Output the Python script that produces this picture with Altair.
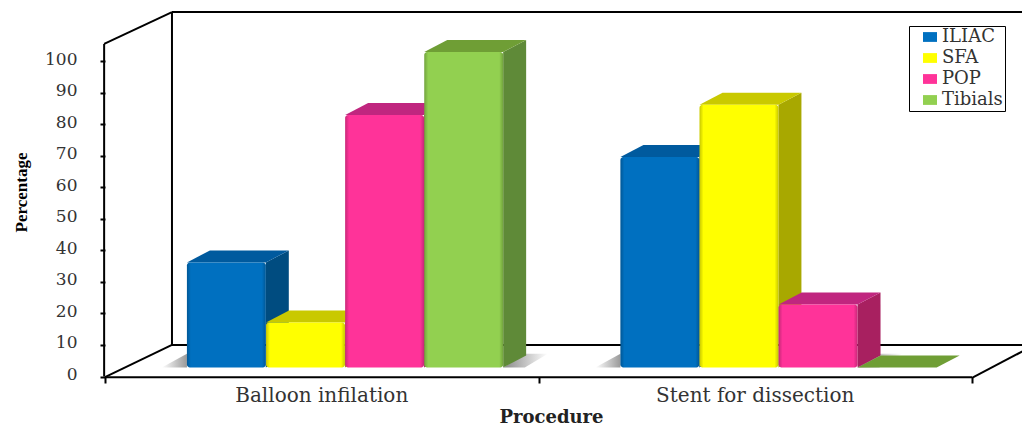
import altair as alt
import pandas as pd

categories = ["Balloon infilation", "Stent for dissection"]
series = ["ILIAC", "SFA", "POP", "Tibials"]
values = {
    "ILIAC": [33.3, 66.7],
    "SFA": [14.3, 83.3],
    "POP": [80, 20],
    "Tibials": [100, 0],
}
front_colors = ["#0070c0", "#ffff00", "#ff3399", "#92d050"]
top_colors = ["#005a9e", "#c9c900", "#c0267f", "#6f9e35"]
side_colors = ["#004c80", "#a8a800", "#a82060", "#5f8a38"]
y_ticks = list(range(0, 101, 10))

# geometry of the pseudo-3D box, in data units
W, H = 1014, 419
PX_X, PX_Y = 433.5, 3.155
X0_PX, Y0_PX = 97, 368.5
BASE = 2.85
START, BAR_W, STEP = 0.189, 0.182, 0.1825
DX, DY = 0.053, 3.8
x_scale = alt.Scale(domain=[-X0_PX / PX_X, (W - X0_PX) / PX_X], nice=False, zero=False)
y_scale = alt.Scale(domain=[-(H - Y0_PX) / PX_Y, Y0_PX / PX_Y], nice=False, zero=False)

x_axis = alt.Axis(orient="bottom", offset=-(H - 369), values=[0, 1, 2], labels=False,
                  domain=False, grid=False, tickColor="#000", tickWidth=2, tickSize=6,
                  title="Procedure", titleFont="DejaVu Serif", titleFontSize=18,
                  titleFontWeight="bold", titleColor="#222", titleX=543, titleY=40,
                  titleAlign="center", titleBaseline="middle")
y_axis = alt.Axis(orient="left", offset=-X0_PX, values=y_ticks, domain=False, grid=False,
                  tickColor="#000", tickWidth=2, tickSize=5, labelFont="DejaVu Serif",
                  labelFontSize=17, labelColor="#333", labelPadding=23, labelOffset=-2,
                  title="Percentage", titleFont="Liberation Serif", titleFontSize=17,
                  titleFontWeight="bold", titleColor="#000", titleAngle=270,
                  titleX=-84, titleY=184, titleAlign="center", titleBaseline="middle")

def XE(f):
    return alt.X(f, scale=x_scale, axis=x_axis)

def YE(f):
    return alt.Y(f, scale=y_scale, axis=y_axis, stack=None)

front, side, top = [], [], []
for ci, cat in enumerate(categories):
    for si, s in enumerate(series):
        v = values[s][ci]
        xl = ci + START + si * STEP
        xr = xl + BAR_W
        yt = BASE + v
        key = f"b{ci}{si}"
        front.append(dict(key=key, series=s, xl=xl, xr=xr, y0=BASE, y1=yt))
        side.append(dict(key=key, fill=side_colors[si], x=xr, y0=BASE, y1=yt))
        side.append(dict(key=key, fill=side_colors[si], x=xr + DX, y0=BASE + DY, y1=yt + DY))
        top.append(dict(key=key, fill=top_colors[si], y=yt, xa=xl, xb=xr))
        top.append(dict(key=key, fill=top_colors[si], y=yt + DY, xa=xl + DX, xb=xr + DX))
df_front = pd.DataFrame(front)
df_front = df_front[df_front.y1 > BASE]
df_side = pd.DataFrame(side)
df_top = pd.DataFrame(top)

frame = pd.DataFrame([
    dict(x=-0.002, x2=-0.002, y=0, y2=105.4),
    dict(x=-0.002, x2=0.1545, y=105.4, y2=115.5),
    dict(x=0.1545, x2=0.1545, y=10, y2=115.5),
    dict(x=0.1545, x2=2.135, y=115.5, y2=115.5),
    dict(x=0.1545, x2=2.135, y=10, y2=10),
    dict(x=0, x2=0.1545, y=-0.2, y2=10),
    dict(x=0, x2=2, y=-0.2, y2=-0.2),
    dict(x=2, x2=2.135, y=-0.4, y2=9.3),
])
frame_layer = alt.Chart(frame).mark_rule(color="#000000", strokeWidth=2).encode(
    x=XE("x:Q"), x2="x2:Q", y=YE("y:Q"), y2="y2:Q",
)

grad_l = alt.Gradient(gradient="linear", x1=0, x2=1, y1=0, y2=0,
                      stops=[alt.GradientStop(offset=0, color="#ffffff"), alt.GradientStop(offset=1, color="#999999")])
grad_r = alt.Gradient(gradient="linear", x1=0, x2=1, y1=0, y2=0,
                      stops=[alt.GradientStop(offset=0, color="#888888"), alt.GradientStop(offset=1, color="#ffffff")])
sh_l, sh_r = [], []
for ci in range(len(categories)):
    xl = ci + START
    n = sum(1 for s in series if values[s][ci] > 0)
    xr = xl + (n - 1) * STEP + BAR_W
    sh_l += [dict(key=f"c{ci}", y=BASE, xa=xl - 0.058, xb=xl), dict(key=f"c{ci}", y=BASE + DY + 0.6, xa=xl, xb=xl)]
    sh_r += [dict(key=f"c{ci}", y=BASE, xa=xr, xb=xr + 0.05), dict(key=f"c{ci}", y=BASE + DY + 0.6, xa=xr + DX, xb=xr + DX + 0.05)]

def horiz(df, **mark):
    return alt.Chart(pd.DataFrame(df)).mark_area(orient="horizontal", **mark).encode(
        y=YE("y:Q"), x=XE("xa:Q"), x2="xb:Q", detail="key:N",
    )

shadow_l = horiz(sh_l, color=grad_l)
shadow_r = horiz(sh_r, color=grad_r)

side_layer = alt.Chart(df_side).mark_area(orient="vertical").encode(
    x=XE("x:Q"), y=YE("y0:Q"), y2="y1:Q", detail="key:N",
    fill=alt.Fill("fill:N", scale=None),
)
top_layer = alt.Chart(df_top).mark_area(orient="horizontal").encode(
    y=YE("y:Q"), x=XE("xa:Q"), x2="xb:Q", detail="key:N",
    fill=alt.Fill("fill:N", scale=None),
)
front_layer = alt.Chart(df_front).mark_bar(cornerRadius=3).encode(
    x=XE("xl:Q"), x2="xr:Q", y=YE("y0:Q"), y2="y1:Q",
    color=alt.Color(
        "series:N",
        scale=alt.Scale(domain=series, range=front_colors),
        legend=alt.Legend(
            title=None, orient="none", legendX=901, legendY=18,
            symbolType="M-1,-0.7H1V0.7H-1Z", symbolSize=196,
            symbolStrokeWidth=0, labelFont="DejaVu Serif", labelFontSize=18, labelColor="#333",
            rowPadding=3, labelOffset=3, padding=2, strokeColor="#000", fillColor="#fff",
            symbolOffset=10, labelLimit=200,
        ),
    ),
)
edge = alt.Gradient(gradient="linear", x1=0, x2=1, y1=0, y2=0, stops=[
    alt.GradientStop(offset=0, color="rgba(0,0,0,0.22)"),
    alt.GradientStop(offset=0.05, color="rgba(0,0,0,0)"),
    alt.GradientStop(offset=0.95, color="rgba(0,0,0,0)"),
    alt.GradientStop(offset=1, color="rgba(0,0,0,0.22)"),
])
edge_layer = alt.Chart(df_front).mark_bar(cornerRadius=3, color=edge).encode(
    x=XE("xl:Q"), x2="xr:Q", y=YE("y0:Q"), y2="y1:Q",
)
cat_df = pd.DataFrame({"category": categories, "x": [0.5, 1.5], "y": [-6.3, -6.3]})
cat_layer = alt.Chart(cat_df).mark_text(
    font="DejaVu Serif", fontSize=20, color="#333", baseline="middle", align="center"
).encode(
    x=XE("x:Q"), y=YE("y:Q"), text="category:N",
)

chart = alt.layer(
    frame_layer, shadow_l, shadow_r, side_layer, top_layer, front_layer, edge_layer, cat_layer
).resolve_scale(x="shared", y="shared").properties(
    width=W, height=H, padding=0, autosize=alt.AutoSizeParams(type="none"), background="#ffffff"
).configure_view(stroke=None)

chart.save("out.html", embed_options={"renderer": "svg", "actions": False})
